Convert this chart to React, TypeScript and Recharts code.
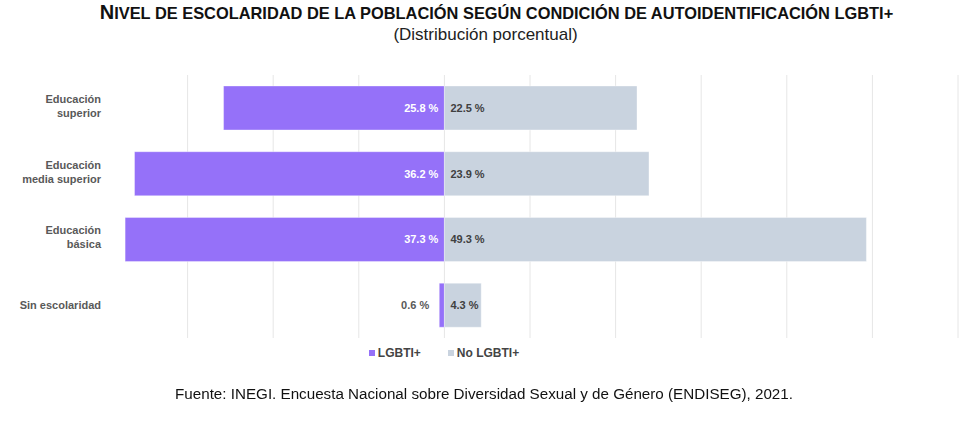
import { Bar, BarChart, CartesianGrid, LabelList, XAxis, YAxis } from "recharts";

const categoryLines = [["Educación", "superior"], ["Educación", "media superior"], ["Educación", "básica"], ["Sin escolaridad"]];
const lgbti = [25.8, 36.2, 37.3, 0.6];
const noLgbti = [22.5, 23.9, 49.3, 4.3];
const gridTicks = [-30, -20, -10, 0, 10, 20, 30, 40, 50, 60];
const xDomain = [-40, 60];

const PURPLE = "#9571f9";
const GREY = "#c9d3df";

const data = categoryLines.map((lines, i) => ({
  name: lines.join(" "),
  lgbti: -lgbti[i],
  noLgbti: noLgbti[i],
}));

const font = "'Liberation Sans', Arial, sans-serif";

function CatTick({ x, y, payload }: any) {
  const idx = data.findIndex((d) => d.name === payload.value);
  const lines = categoryLines[idx] || [String(payload.value)];
  const start = -((lines.length - 1) * 14) / 2 - (lines.length > 1 ? 2 : 0);
  const tx = x + 7;
  return (
    <text x={tx} y={y} textAnchor="end" fill="#595959" fontSize={11} fontWeight={700} fontFamily={font}>
      {lines.map((l, i) => (
        <tspan key={i} x={tx} y={y + start + i * 14} dy={4}>{l}</tspan>
      ))}
    </text>
  );
}

function LgbtiLabel({ x, y, width, height, value }: any) {
  const left = Math.min(x, x + width);
  const right = Math.max(x, x + width);
  const inside = right - left > 40;
  return (
    <text
      x={inside ? right - 6 : left - 10}
      y={y + height / 2 + 4}
      textAnchor="end"
      fill={inside ? "#ffffff" : "#595959"}
      fontSize={11}
      fontWeight={700}
      fontFamily={font}
    >
      {Math.abs(value).toFixed(1)} %
    </text>
  );
}

function NoLabel({ x, y, width, height, value }: any) {
  const left = Math.min(x, x + width);
  return (
    <text x={left + 6} y={y + height / 2 + 4} textAnchor="start" fill="#404040" fontSize={11} fontWeight={700} fontFamily={font}>
      {Number(value).toFixed(1)} %
    </text>
  );
}

// gridlines only at -30..60, the left edge (-40) has none
const gridX = ({ xAxis, offset }: any) =>
  gridTicks.map((t) =>
    xAxis && typeof xAxis.scale === "function"
      ? xAxis.scale(t)
      : offset.left + ((t - xDomain[0]) / (xDomain[1] - xDomain[0])) * offset.width
  );

const legendItems = [{ label: "LGBTI+", color: PURPLE }, { label: "No LGBTI+", color: GREY }];

export default function App() {
  return (
    <div style={{ position: "fixed", left: 0, top: 0, width: 960, height: 421, background: "#fff", fontFamily: font }}>
      <div style={{ position: "absolute", top: 1, left: 0, width: 993, textAlign: "center", fontWeight: 700, color: "#111", whiteSpace: "nowrap" }}>
        <span style={{ fontSize: 20 }}>N</span>
        <span style={{ fontSize: 16.4 }}>IVEL DE ESCOLARIDAD DE LA POBLACIÓN SEGÚN CONDICIÓN DE AUTOIDENTIFICACIÓN LGBTI+</span>
      </div>
      <div style={{ position: "absolute", top: 25, left: 0, width: 971, textAlign: "center", fontSize: 17, color: "#222" }}>
        (Distribución porcentual)
      </div>
      <div style={{ position: "absolute", top: 0, left: 0 }}>
        <BarChart
          width={960}
          height={421}
          data={data}
          layout="vertical"
          stackOffset="sign"
          barCategoryGap="16.7%"
          margin={{ top: 75, right: 2, bottom: 83, left: 2 }}
        >
          <CartesianGrid horizontal={false} stroke="#e6e6e6" verticalCoordinatesGenerator={gridX} />
          <XAxis type="number" domain={xDomain} ticks={gridTicks} hide />
          <YAxis type="category" dataKey="name" width={100} axisLine={false} tickLine={false} tick={<CatTick />} />
          <Bar dataKey="lgbti" name="LGBTI+" stackId="a" fill={PURPLE} stroke="#ffffff" strokeOpacity={0.35} isAnimationActive={false}>
            <LabelList dataKey="lgbti" content={<LgbtiLabel />} />
          </Bar>
          <Bar dataKey="noLgbti" name="No LGBTI+" stackId="a" fill={GREY} stroke="#ffffff" strokeOpacity={0.35} isAnimationActive={false}>
            <LabelList dataKey="noLgbti" content={<NoLabel />} />
          </Bar>
        </BarChart>
      </div>
      <div style={{ position: "absolute", top: 346, left: 0, width: 888, display: "flex", justifyContent: "center", gap: 27, fontSize: 12, fontWeight: 700, color: "#444" }}>
        {legendItems.map((it) => (
          <span key={it.label} style={{ display: "flex", alignItems: "center" }}>
            <span style={{ width: 6, height: 6, background: it.color, marginRight: 3, display: "inline-block" }} />
            {it.label}
          </span>
        ))}
      </div>
      <div style={{ position: "absolute", top: 385, left: 0, width: 968, textAlign: "center", fontSize: 15.2, color: "#111" }}>
        Fuente: INEGI. Encuesta Nacional sobre Diversidad Sexual y de Género (ENDISEG), 2021.
      </div>
    </div>
  );
}
